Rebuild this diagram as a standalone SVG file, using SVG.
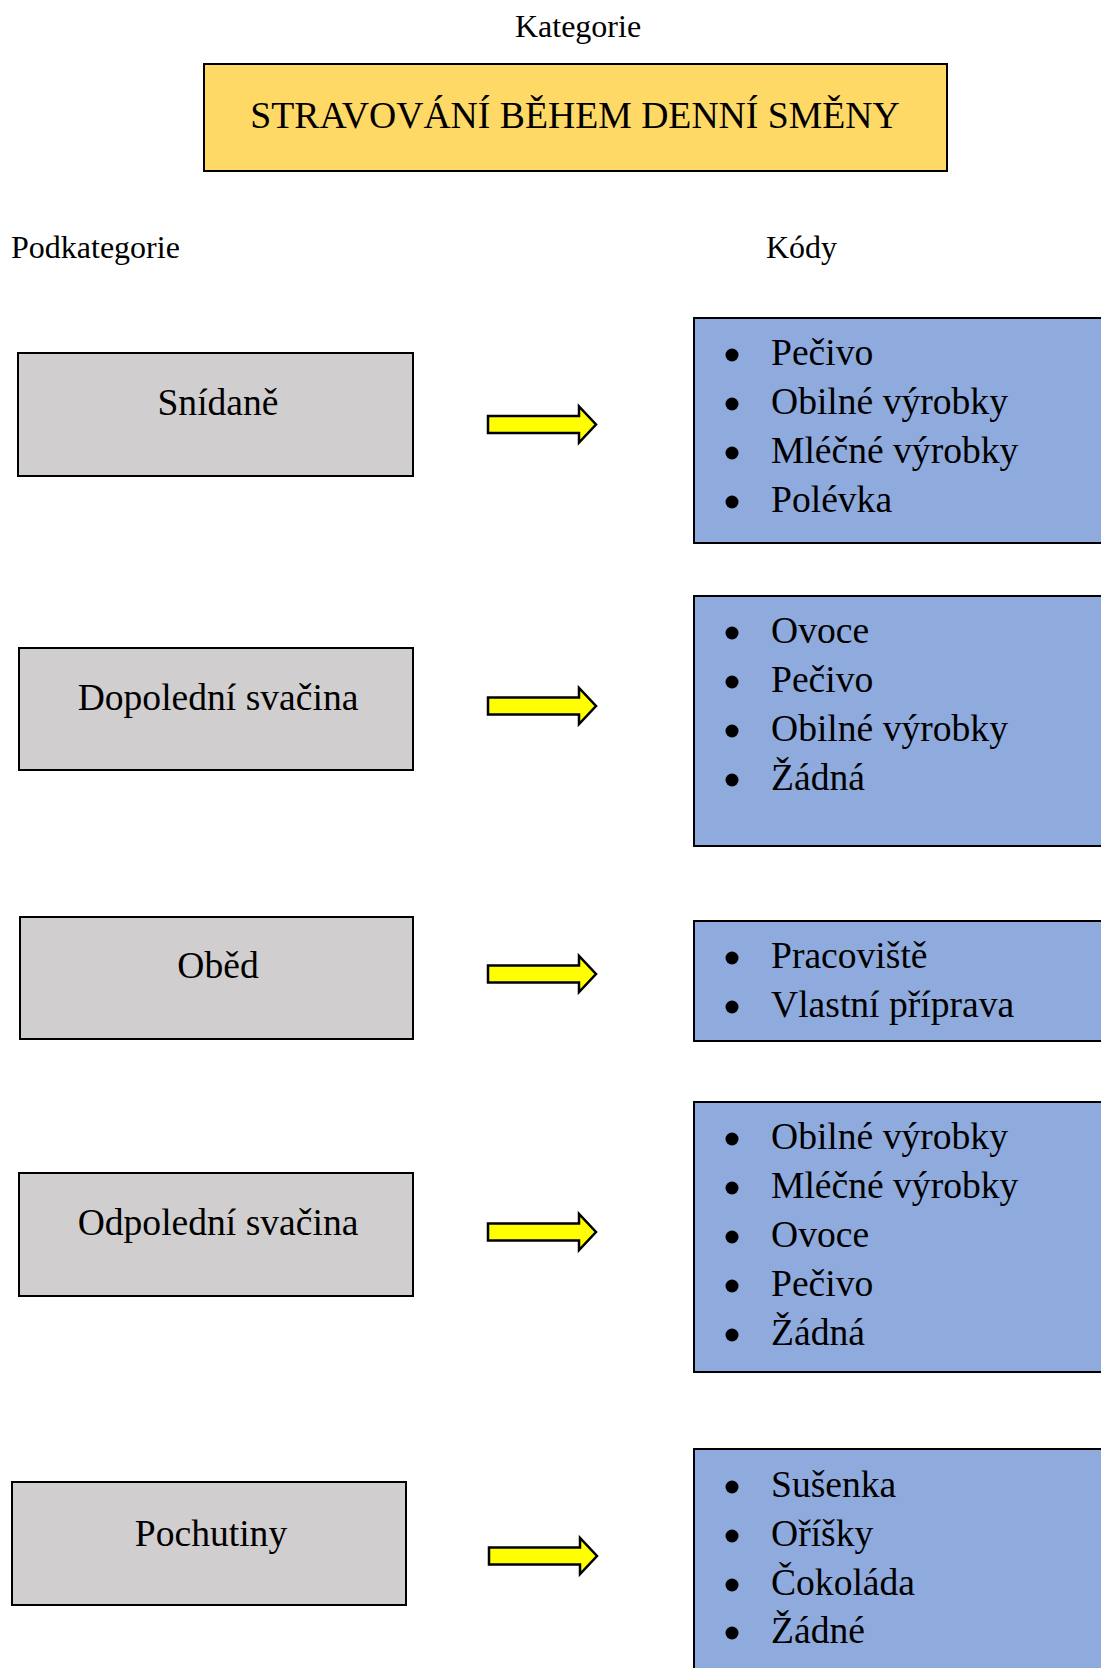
<svg xmlns="http://www.w3.org/2000/svg" width="1101" height="1668" viewBox="0 0 1101 1668">
<style>
text{font-family:"Liberation Serif","Times New Roman",serif;fill:#000}
.hdr{font-size:32px}
.title{font-size:37.7px}
.lbl{font-size:37.6px;text-anchor:middle}
.item{font-size:37.6px}
.sub{fill:#D0CECE;stroke:#000;stroke-width:2}
.code{fill:#8FAADC;stroke:#000;stroke-width:2}
.arrow{fill:#FFFF00;stroke:#000;stroke-width:2.5;stroke-linejoin:miter}
.bul{fill:#000}
</style>
<defs>
<path id="arr" d="M0,-8.5 H91 V-18 L108,0 L91,18 V8.5 H0 Z"/>
</defs>
<rect width="1101" height="1668" fill="#fff"/>
<text class="hdr" x="578" y="37" text-anchor="middle">Kategorie</text>
<g id="title">
<rect x="204" y="64" width="743" height="107" fill="#FFD966" stroke="#000" stroke-width="2"/>
<text class="title" x="575" y="128" text-anchor="middle">STRAVOVÁNÍ BĚHEM DENNÍ SMĚNY</text>
</g>
<text class="hdr" x="11" y="258">Podkategorie</text>
<text class="hdr" x="766" y="258">Kódy</text>

<g id="sub1"><rect class="sub" x="18" y="353" width="395" height="123"/><text class="lbl" x="218" y="415">Snídaně</text></g>
<g id="sub2"><rect class="sub" x="19" y="648" width="394" height="122"/><text class="lbl" x="218" y="710">Dopolední svačina</text></g>
<g id="sub3"><rect class="sub" x="20" y="917" width="393" height="122"/><text class="lbl" x="218" y="978">Oběd</text></g>
<g id="sub4"><rect class="sub" x="19" y="1173" width="394" height="123"/><text class="lbl" x="218" y="1235">Odpolední svačina</text></g>
<g id="sub5"><rect class="sub" x="12" y="1482" width="394" height="123"/><text class="lbl" x="211" y="1546">Pochutiny</text></g>

<g id="connectors">
<use href="#arr" class="arrow" x="488" y="424.5"/>
<use href="#arr" class="arrow" x="488" y="706"/>
<use href="#arr" class="arrow" x="488" y="974"/>
<use href="#arr" class="arrow" x="488" y="1232"/>
<use href="#arr" class="arrow" x="489" y="1556"/>
</g>

<g id="codes1">
<rect class="code" x="694" y="318" width="420" height="225"/>
<circle class="bul" cx="732" cy="355" r="6.5"/><text class="item" x="771" y="365">Pečivo</text>
<circle class="bul" cx="732" cy="404" r="6.5"/><text class="item" x="771" y="414">Obilné výrobky</text>
<circle class="bul" cx="732" cy="453" r="6.5"/><text class="item" x="771" y="463">Mléčné výrobky</text>
<circle class="bul" cx="732" cy="502" r="6.5"/><text class="item" x="771" y="512">Polévka</text>
</g>
<g id="codes2">
<rect class="code" x="694" y="596" width="420" height="250"/>
<circle class="bul" cx="732" cy="633" r="6.5"/><text class="item" x="771" y="643">Ovoce</text>
<circle class="bul" cx="732" cy="682" r="6.5"/><text class="item" x="771" y="692">Pečivo</text>
<circle class="bul" cx="732" cy="731" r="6.5"/><text class="item" x="771" y="741">Obilné výrobky</text>
<circle class="bul" cx="732" cy="780" r="6.5"/><text class="item" x="771" y="790">Žádná</text>
</g>
<g id="codes3">
<rect class="code" x="694" y="921" width="420" height="120"/>
<circle class="bul" cx="732" cy="958" r="6.5"/><text class="item" x="771" y="968">Pracoviště</text>
<circle class="bul" cx="732" cy="1007" r="6.5"/><text class="item" x="771" y="1017">Vlastní příprava</text>
</g>
<g id="codes4">
<rect class="code" x="694" y="1102" width="420" height="270"/>
<circle class="bul" cx="732" cy="1139" r="6.5"/><text class="item" x="771" y="1149">Obilné výrobky</text>
<circle class="bul" cx="732" cy="1188" r="6.5"/><text class="item" x="771" y="1198">Mléčné výrobky</text>
<circle class="bul" cx="732" cy="1237" r="6.5"/><text class="item" x="771" y="1247">Ovoce</text>
<circle class="bul" cx="732" cy="1286" r="6.5"/><text class="item" x="771" y="1296">Pečivo</text>
<circle class="bul" cx="732" cy="1335" r="6.5"/><text class="item" x="771" y="1345">Žádná</text>
</g>
<g id="codes5">
<rect class="code" x="694" y="1449" width="420" height="240"/>
<circle class="bul" cx="732" cy="1487" r="6.5"/><text class="item" x="771" y="1497">Sušenka</text>
<circle class="bul" cx="732" cy="1536" r="6.5"/><text class="item" x="771" y="1546">Oříšky</text>
<circle class="bul" cx="732" cy="1585" r="6.5"/><text class="item" x="771" y="1595">Čokoláda</text>
<circle class="bul" cx="732" cy="1633" r="6.5"/><text class="item" x="771" y="1643">Žádné</text>
</g>
</svg>
